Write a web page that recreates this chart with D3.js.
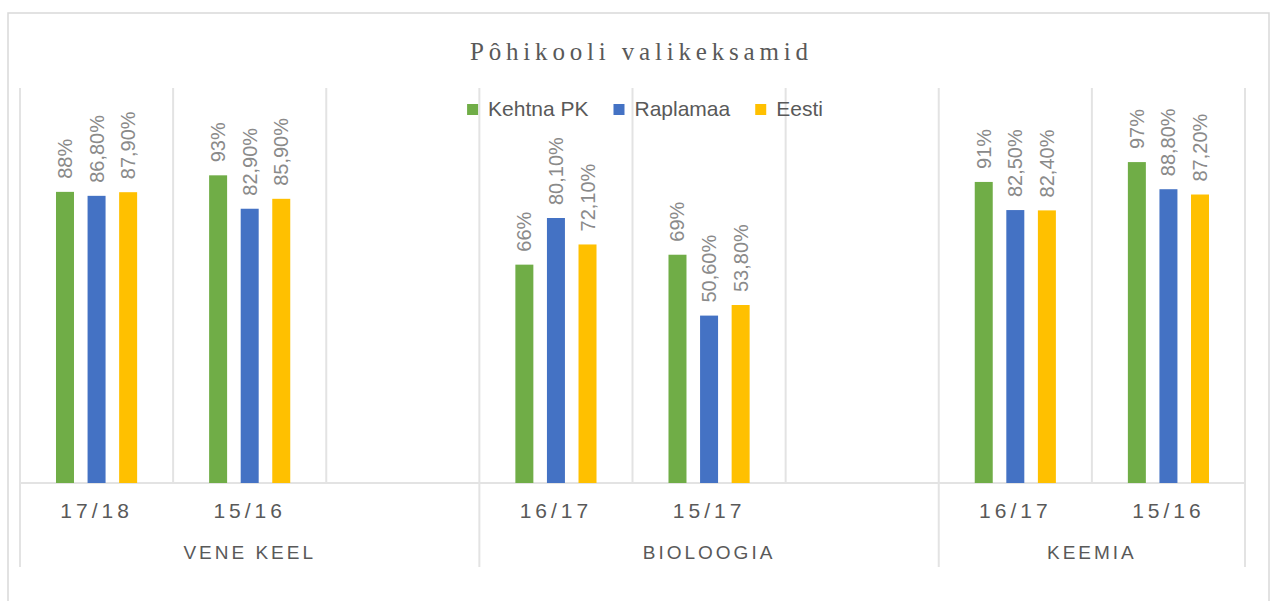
<!DOCTYPE html>
<html>
<head>
<meta charset="utf-8">
<script src="https://cdn.jsdelivr.net/npm/d3@7"></script>
<style>
 body { margin: 0; background: #fff; }
 text { font-family: "Liberation Sans", Arial, sans-serif; }
 text.title { font-family: "Liberation Serif", "DejaVu Serif", serif; }
</style>
</head>
<body>
<script>
const width = 1275;
const height = 601;

const title = "Pôhikooli valikeksamid";
const groups = ["VENE KEEL", "BIOLOOGIA", "KEEMIA"];
const periods = [["17/18", "15/16"], ["16/17", "15/17"], ["16/17", "15/16"]];
const series = ["Kehtna PK", "Raplamaa", "Eesti"];
const kehtna = [88, 93, 66, 69, 91, 97];
const raplamaa = [86.8, 82.9, 80.1, 50.6, 82.5, 88.8];
const eesti = [87.9, 85.9, 72.1, 53.8, 82.4, 87.2];
const colors = ["#70ad47", "#4472c4", "#ffc000"];

// build slots: each group's periods, plus a blank slot between groups
const slots = [];
let k = 0;
groups.forEach((g, gi) => {
 periods[gi].forEach(p => {
    slots.push({ group: gi, label: p, idx: k++ });
 });
 if (gi < groups.length - 1) slots.push({ group: gi, label: "", idx: -1 });
});

const values = [kehtna, raplamaa, eesti];

const svg = d3.select("body")
 .append("svg")
 .attr("width", width)
 .attr("height", height);

// outer border
svg.append("rect")
 .attr("x", 8)
 .attr("y", 13)
 .attr("width", 1261)
 .attr("height", 600)
 .attr("fill", "none")
 .attr("stroke", "#d9d9d9")
 .attr("stroke-width", 1.5);

const x = d3.scaleBand()
 .domain(d3.range(slots.length))
 .range([20, 1245]);

const xs = d3.scaleBand()
 .domain(series)
 .range([0, x.bandwidth()])
 .paddingInner(0.43)
 .paddingOuter(1.14);

const y = d3.scaleLinear()
 .domain([0, 120])
 .range([483, 86]);

// vertical gridlines between slots
const bounds = d3.range(slots.length + 1);
const groupEdges = new Set([0, slots.length]);
let pos = 0;
groups.forEach((g, gi) => {
 pos += slots.filter(s => s.group === gi).length;
 groupEdges.add(pos);
});

svg.selectAll("line.grid")
 .data(bounds)
 .enter()
 .append("line")
 .attr("class", "grid")
 .attr("x1", i => i < slots.length ? x(i) : x.range()[1])
 .attr("x2", i => i < slots.length ? x(i) : x.range()[1])
 .attr("y1", y(120) + 2)
 .attr("y2", i => groupEdges.has(i) ? 567 : y(0))
 .attr("stroke", "#e3e3e3")
 .attr("stroke-width", 2);

// axis line
svg.append("line")
 .attr("x1", x.range()[0])
 .attr("x2", x.range()[1])
 .attr("y1", y(0))
 .attr("y2", y(0))
 .attr("stroke", "#e3e3e3")
 .attr("stroke-width", 2);

// bars
const barData = [];
slots.forEach((s, si) => {
 if (s.idx < 0) return;
 series.forEach((name, j) => {
    barData.push({ slot: si, name: name, j: j, v: values[j][s.idx] });
 });
});

const fmt = d => d.j === 0 ? d.v + "%" : d.v.toFixed(2).replace(".", ",") + "%";

svg.selectAll("rect.bar")
 .data(barData)
 .enter()
 .append("rect")
 .attr("class", "bar")
 .attr("x", d => x(d.slot) + xs(d.name))
 .attr("y", d => y(d.v))
 .attr("width", xs.bandwidth())
 .attr("height", d => y(0) - y(d.v))
 .attr("fill", d => colors[d.j]);

svg.selectAll("text.lbl")
 .data(barData)
 .enter()
 .append("text")
 .attr("class", "lbl")
 .attr("transform", d => {
    const cx = x(d.slot) + xs(d.name) + xs.bandwidth() / 2;
    return `translate(${cx},${y(d.v) - 13}) rotate(-90)`;
 })
 .attr("dominant-baseline", "central")
 .attr("font-size", 20)
 .attr("fill", "#8a8a8a")
 .text(fmt);

// category labels
svg.selectAll("text.cat")
 .data(slots.filter(s => s.idx >= 0))
 .enter()
 .append("text")
 .attr("class", "cat")
 .attr("x", s => x(slots.indexOf(s)) + x.bandwidth() / 2)
 .attr("y", 518)
 .attr("text-anchor", "middle")
 .attr("font-size", 21)
 .attr("letter-spacing", 4)
 .attr("fill", "#595959")
 .text(s => s.label);

// group labels
svg.selectAll("text.grp")
 .data(groups)
 .enter()
 .append("text")
 .attr("class", "grp")
 .attr("x", (g, gi) => {
    const idx = slots.map((s, i) => s.group === gi ? i : -1).filter(i => i >= 0);
    const x0 = x(idx[0]);
    const x1 = x(idx[idx.length - 1]) + x.bandwidth();
    return (x0 + x1) / 2;
 })
 .attr("y", 559)
 .attr("text-anchor", "middle")
 .attr("font-size", 19)
 .attr("letter-spacing", 3)
 .attr("fill", "#595959")
 .text(g => g);

// title
svg.append("text")
 .attr("class", "title")
 .attr("x", 639)
 .attr("y", 60)
 .attr("text-anchor", "middle")
 .attr("font-size", 25)
 .attr("textLength", 338)
 .attr("lengthAdjust", "spacing")
 .attr("fill", "#595959")
 .text(title);

// legend
const legend = svg.append("g");
let lx = 0;
series.forEach((name, j) => {
 const item = legend.append("g").attr("transform", `translate(${lx},0)`);
 item.append("rect")
    .attr("x", 0)
    .attr("y", 104)
    .attr("width", 11)
    .attr("height", 11)
    .attr("fill", colors[j]);
 const t = item.append("text")
    .attr("x", 21)
    .attr("y", 116)
    .attr("font-size", 21)
    .attr("fill", "#595959")
    .text(name);
 lx += 21 + t.node().getComputedTextLength() + 25;
});
lx -= 25;
legend.attr("transform", `translate(${645 - lx / 2},0)`);
</script>
</body>
</html>
